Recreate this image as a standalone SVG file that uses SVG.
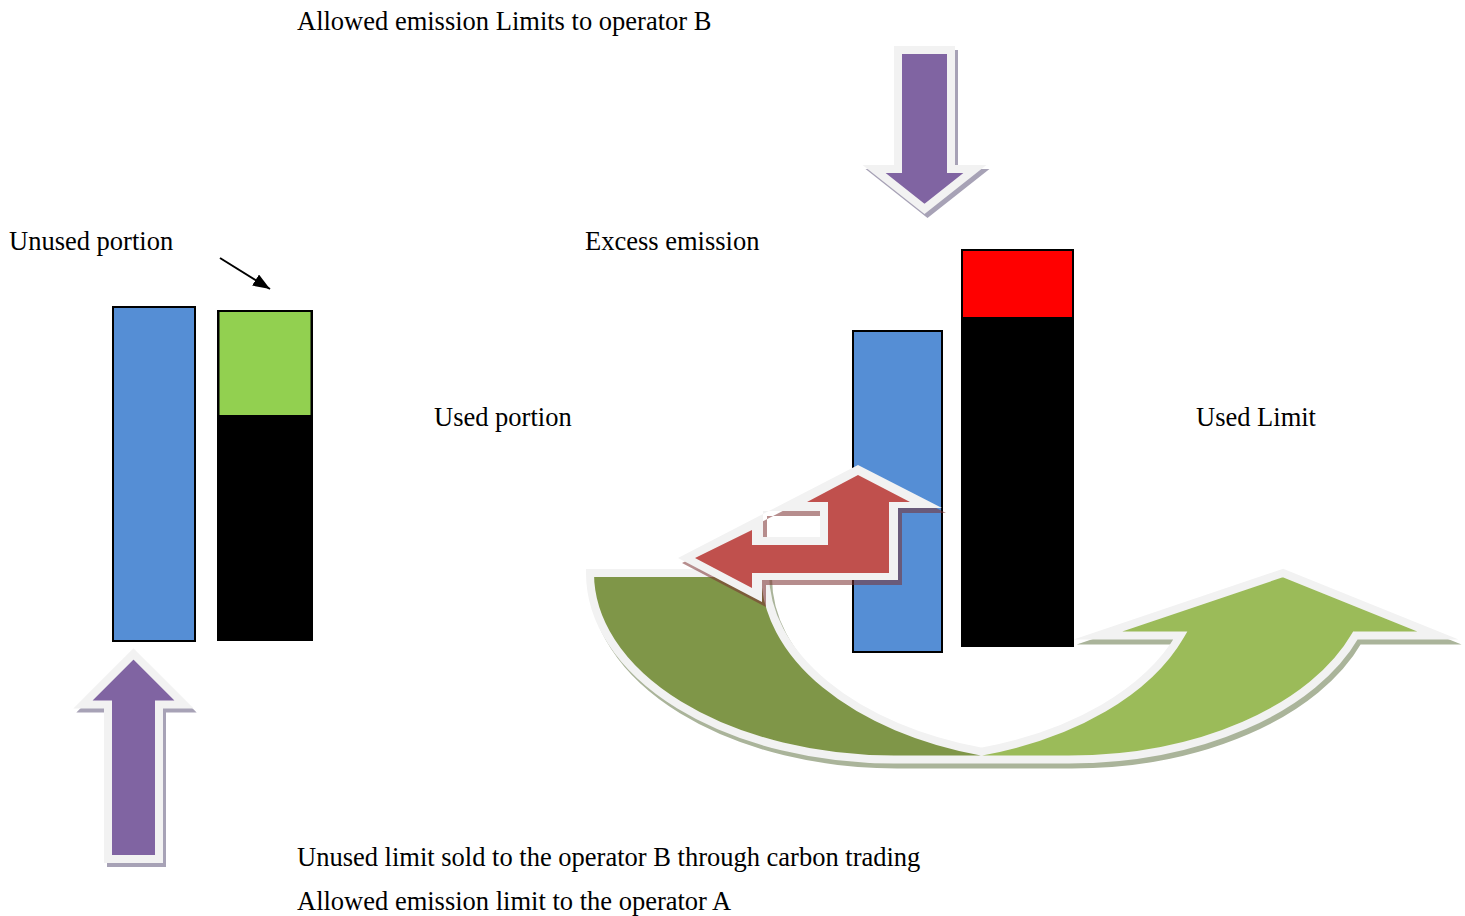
<svg xmlns="http://www.w3.org/2000/svg" width="1465" height="916" viewBox="0 0 1465 916">
  <style>
    .lbl { font-family: "Liberation Serif", "Times New Roman", serif; font-size: 26.5px; fill: #000; }
    .bar { stroke: #000; stroke-width: 2; }
    .outl { fill: none; stroke: #f2f2f2; stroke-width: 8; stroke-linejoin: miter; stroke-miterlimit: 10; }
    .pshadow { fill: #a7a2b6; stroke: #a7a2b6; stroke-width: 8; stroke-linejoin: miter; stroke-miterlimit: 10; }
    .gshadow { fill: #aab49a; stroke: #aab49a; stroke-width: 8; stroke-linejoin: miter; stroke-miterlimit: 10; }
    .purple { fill: #8064a2; }
  </style>
  <defs>
    <marker id="ah" markerUnits="userSpaceOnUse" markerWidth="18" markerHeight="14" refX="17" refY="6.5" orient="auto">
      <path d="M0,0 L17,6.5 L0,13 Z" fill="#000"/>
    </marker>
    <path id="downArrow" d="M 898,50 L 951,50 L 951,169 L 975,169 L 924.5,209 L 874,169 L 898,169 Z"/>
    <path id="upArrow" d="M 133.5,654 L 184,704.5 L 159,704.5 L 159,859 L 108,859 L 108,704.5 L 83,704.5 Z"/>
    <path id="curveSil" d="M 590,573 L 765,573 A 304 186.5 0 0 0 981.5,751.6 A 304 186.5 0 0 0 1180.4,635.5 L 1098,635.5 L 1283,573 L 1438,635.5 L 1355.4,635.5 A 304 186.5 0 0 1 1069,759.5 L 894,759.5 A 304 186.5 0 0 1 590,573 Z"/>
    <path id="tradeOut" fill-rule="evenodd" d="M 678,558 L 858,465 L 942,508 L 898,508 L 898,580 L 762,580 L 762,602 Z M 763,537 L 763,511 L 820,511 L 820,537 Z"/>
  </defs>

  <!-- Operator A bars -->
  <g id="bar-a-allowed">
    <rect class="bar" x="113" y="307" width="82" height="334" fill="#558ed5"/>
  </g>
  <g id="bar-a-used">
    <rect class="bar" x="218" y="311" width="94" height="329" fill="#000"/>
    <rect x="219.5" y="312" width="91" height="103" fill="#92d050"/>
  </g>

  <!-- Operator B bars -->
  <g id="bar-b-allowed">
    <rect class="bar" x="853" y="331" width="89" height="321" fill="#558ed5"/>
  </g>
  <g id="bar-b-used">
    <rect class="bar" x="962" y="250" width="111" height="396" fill="#000"/>
    <rect class="bar" x="962" y="250" width="111" height="68" fill="#ff0000"/>
  </g>

  <!-- Allowed emission limit to operator B (down arrow) -->
  <g id="arrow-b-allowed">
    <use href="#downArrow" class="pshadow" transform="translate(3,4)"/>
    <use href="#downArrow" class="purple"/>
    <use href="#downArrow" class="outl"/>
  </g>

  <!-- Allowed emission limit to operator A (up arrow) -->
  <g id="arrow-a-allowed">
    <use href="#upArrow" class="pshadow" transform="translate(3,4)"/>
    <use href="#upArrow" class="purple"/>
    <use href="#upArrow" class="outl"/>
  </g>

  <!-- Carbon trading curved arrow -->
  <g id="arrow-trading">
    <use href="#curveSil" class="gshadow" transform="translate(3,5)"/>
    <use href="#curveSil" fill="#f2f2f2"/>
    <path d="M 1283,573 L 1438,635.5 L 1355.4,635.5 A 304 186.5 0 0 1 1069,759.5 L 981.5,759.5 L 981.5,751.6 A 304 186.5 0 0 0 1180.4,635.5 L 1098,635.5 Z" fill="#9bbb59"/>
    <path d="M 981.5,759.5 L 894,759.5 A 304 186.5 0 0 1 590,573 L 765,573 A 304 186.5 0 0 0 981.5,751.6 Z" fill="#7f9648"/>
    <use href="#curveSil" class="outl"/>
  </g>

  <!-- Excess emission bought (left-up arrow) -->
  <g id="arrow-excess">
    <use href="#tradeOut" fill="#7a3030" fill-opacity="0.55" transform="translate(4,5)"/>
    <use href="#tradeOut" fill="#f2f2f2"/>
    <path d="M 858,475 L 910,502 L 889,502 L 889,573 L 752,573 L 752,588 L 695,558 L 752,530 L 752,545 L 828,545 L 828,502 L 807,502 Z" fill="#c0504d"/>
  </g>

  <!-- connectors -->
  <g id="connectors">
    <line x1="220" y1="258" x2="270" y2="289" stroke="#000" stroke-width="2" marker-end="url(#ah)"/>
  </g>

  <!-- labels -->
  <g id="labels">
    <text class="lbl" x="297" y="30">Allowed emission Limits to operator B</text>
    <text class="lbl" x="9" y="250">Unused portion</text>
    <text class="lbl" x="585" y="250">Excess emission</text>
    <text class="lbl" x="434" y="426">Used portion</text>
    <text class="lbl" x="1196" y="426">Used Limit</text>
    <text class="lbl" x="297" y="866">Unused limit sold to the operator B through carbon trading</text>
    <text class="lbl" x="297" y="910">Allowed emission limit to the operator A</text>
  </g>
</svg>
